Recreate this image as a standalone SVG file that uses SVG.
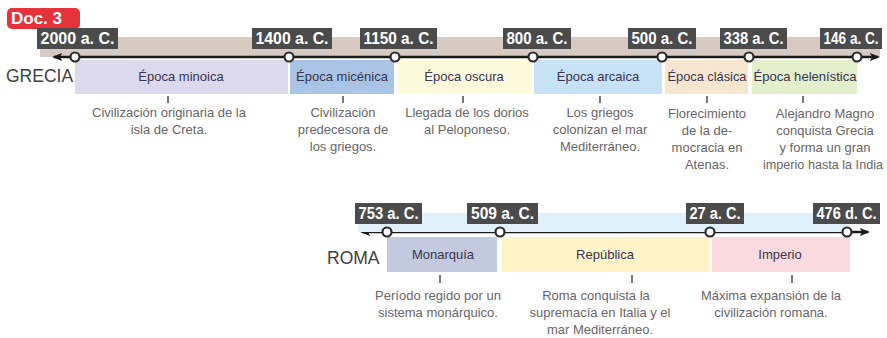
<svg xmlns="http://www.w3.org/2000/svg" width="887" height="338" viewBox="0 0 887 338">
<defs>
<style>
.lbl{fill:#4b4b4b}
.lt{font-family:"Liberation Sans",Arial,sans-serif;font-weight:bold;font-size:16px;fill:#fff;text-anchor:middle}
.pt{font-family:"Liberation Sans",Arial,sans-serif;font-size:13px;fill:#3a3550;text-anchor:middle}
.dt{font-family:"Liberation Sans",Arial,sans-serif;font-size:13px;fill:#6b6468;text-anchor:middle}
.big{font-family:"Liberation Sans",Arial,sans-serif;font-size:17.5px;fill:#3f3f3f}
.axis{stroke:#1a1a1a;stroke-width:2.5;fill:none}
.tick{stroke:#555;stroke-width:1.6}
.dot{fill:#fff;stroke:#2b2b2b;stroke-width:2.2}
</style>
<marker id="arr" viewBox="0 0 10 10" refX="8" refY="5" markerWidth="4.2" markerHeight="4.2" orient="auto-start-reverse" markerUnits="strokeWidth">
<path d="M0,1 L10,5 L0,9 L2.5,5 Z" fill="#1a1a1a"/>
</marker>
</defs>
<rect width="887" height="338" fill="#fff"/>

<g id="badge">
<rect x="7" y="8" width="73" height="21" rx="5" fill="#e7323b"/>
<text x="11" y="24" font-family="Liberation Sans,Arial,sans-serif" font-weight="bold" font-size="17" fill="#fff">Doc. 3</text>
</g>

<!-- GRECIA -->
<rect x="40" y="37" width="840" height="20" fill="#d6cac2"/>
<text class="big" x="6" y="82">GRECIA</text>

<g id="connectors">
<line class="axis" x1="54" y1="57" x2="878" y2="57" marker-start="url(#arr)" marker-end="url(#arr)"/>
<line class="axis" x1="362" y1="232" x2="868" y2="232" marker-start="url(#arr)" marker-end="url(#arr)"/>
<line class="tick" x1="168" y1="96" x2="168" y2="103"/>
<line class="tick" x1="343" y1="96" x2="343" y2="103"/>
<line class="tick" x1="463" y1="96" x2="463" y2="103"/>
<line class="tick" x1="600" y1="96" x2="600" y2="103"/>
<line class="tick" x1="707" y1="96" x2="707" y2="103"/>
<line class="tick" x1="803" y1="96" x2="803" y2="103"/>
<line class="tick" x1="440" y1="275" x2="440" y2="283"/>
<line class="tick" x1="632" y1="275" x2="632" y2="283"/>
<line class="tick" x1="792" y1="275" x2="792" y2="283"/>
</g>

<g id="p-minoica">
<rect x="75" y="60" width="213" height="34" fill="#dcd9ec"/>
<text class="pt" x="181" y="81">Época minoica</text>
<text class="dt" x="169" y="117">Civilización originaria de la</text>
<text class="dt" x="169" y="134">isla de Creta.</text>
</g>
<g id="p-micenica">
<rect x="290" y="60" width="104" height="34" fill="#a9c4e4"/>
<text class="pt" x="342" y="81">Época micénica</text>
<text class="dt" x="343" y="117">Civilización</text>
<text class="dt" x="343" y="134">predecesora de</text>
<text class="dt" x="343" y="151">los griegos.</text>
</g>
<g id="p-oscura">
<rect x="397" y="60" width="134" height="34" fill="#fdfadc"/>
<text class="pt" x="464" y="81">Época oscura</text>
<text class="dt" x="467" y="117">Llegada de los dorios</text>
<text class="dt" x="467" y="134">al Peloponeso.</text>
</g>
<g id="p-arcaica">
<rect x="534" y="60" width="128" height="34" fill="#c8e2f5"/>
<text class="pt" x="598" y="81">Época arcaica</text>
<text class="dt" x="600" y="117">Los griegos</text>
<text class="dt" x="600" y="134">colonizan el mar</text>
<text class="dt" x="600" y="151">Mediterráneo.</text>
</g>
<g id="p-clasica">
<rect x="665" y="60" width="83" height="34" fill="#f7e6cf"/>
<text class="pt" x="707" y="81" textLength="79" lengthAdjust="spacingAndGlyphs">Época clásica</text>
<text class="dt" x="707" y="118">Florecimiento</text>
<text class="dt" x="707" y="135">de la de-</text>
<text class="dt" x="707" y="152">mocracia en</text>
<text class="dt" x="707" y="169">Atenas.</text>
</g>
<g id="p-helenistica">
<rect x="752" y="60" width="105" height="34" fill="#e3efcb"/>
<text class="pt" x="805" y="81" textLength="103" lengthAdjust="spacingAndGlyphs">Época helenística</text>
<text class="dt" x="825" y="118">Alejandro Magno</text>
<text class="dt" x="825" y="135">conquista Grecia</text>
<text class="dt" x="825" y="152">y forma un gran</text>
<text class="dt" x="823" y="169" textLength="120" lengthAdjust="spacingAndGlyphs">imperio hasta la India</text>
</g>

<g id="d-2000">
<circle class="dot" cx="75" cy="57" r="4.5"/>
<rect class="lbl" x="37" y="28" width="81" height="21"/>
<text class="lt" x="77.5" y="44" textLength="74" lengthAdjust="spacingAndGlyphs">2000 a. C.</text>
</g>
<g id="d-1400">
<circle class="dot" cx="289" cy="57" r="4.5"/>
<rect class="lbl" x="252" y="28" width="80" height="21"/>
<text class="lt" x="292" y="44" textLength="73" lengthAdjust="spacingAndGlyphs">1400 a. C.</text>
</g>
<g id="d-1150">
<circle class="dot" cx="395" cy="57" r="4.5"/>
<rect class="lbl" x="360" y="28" width="77" height="21"/>
<text class="lt" x="398.5" y="44" textLength="70" lengthAdjust="spacingAndGlyphs">1150 a. C.</text>
</g>
<g id="d-800">
<circle class="dot" cx="533" cy="57" r="4.5"/>
<rect class="lbl" x="503" y="28" width="68" height="21"/>
<text class="lt" x="537" y="44" textLength="61" lengthAdjust="spacingAndGlyphs">800 a. C.</text>
</g>
<g id="d-500">
<circle class="dot" cx="662" cy="57" r="4.5"/>
<rect class="lbl" x="628" y="28" width="68" height="21"/>
<text class="lt" x="662" y="44" textLength="61" lengthAdjust="spacingAndGlyphs">500 a. C.</text>
</g>
<g id="d-338">
<circle class="dot" cx="749" cy="57" r="4.5"/>
<rect class="lbl" x="720" y="28" width="67" height="21"/>
<text class="lt" x="753.5" y="44" textLength="60" lengthAdjust="spacingAndGlyphs">338 a. C.</text>
</g>
<g id="d-146">
<circle class="dot" cx="857" cy="57" r="4.5"/>
<rect class="lbl" x="820" y="28" width="62" height="21"/>
<text class="lt" x="851" y="44" textLength="55" lengthAdjust="spacingAndGlyphs">146 a. C.</text>
</g>

<!-- ROMA -->
<rect x="358" y="213" width="492" height="19" fill="#dff0fa"/>
<text class="big" x="327" y="264">ROMA</text>

<g id="p-monarquia">
<rect x="387" y="237" width="110" height="35" fill="#c3c9de"/>
<text class="pt" x="443" y="259">Monarquía</text>
<text class="dt" x="438" y="300">Período regido por un</text>
<text class="dt" x="438" y="317">sistema monárquico.</text>
</g>
<g id="p-republica">
<rect x="502" y="237" width="207" height="35" fill="#fdf3c6"/>
<text class="pt" x="605" y="259">República</text>
<text class="dt" x="596" y="300">Roma conquista la</text>
<text class="dt" x="600" y="317">supremacía en Italia y el</text>
<text class="dt" x="600" y="334">mar Mediterráneo.</text>
</g>
<g id="p-imperio">
<rect x="712" y="237" width="138" height="35" fill="#fadade"/>
<text class="pt" x="780" y="259">Imperio</text>
<text class="dt" x="771" y="300">Máxima expansión de la</text>
<text class="dt" x="771" y="317">civilización romana.</text>
</g>

<g id="d-753">
<circle class="dot" cx="387" cy="232" r="4.5"/>
<rect class="lbl" x="355" y="203" width="67" height="21"/>
<text class="lt" x="388.5" y="219" textLength="60" lengthAdjust="spacingAndGlyphs">753 a. C.</text>
</g>
<g id="d-509">
<circle class="dot" cx="500" cy="232" r="4.5"/>
<rect class="lbl" x="467" y="203" width="71" height="21"/>
<text class="lt" x="502.5" y="219" textLength="63" lengthAdjust="spacingAndGlyphs">509 a. C.</text>
</g>
<g id="d-27">
<circle class="dot" cx="710" cy="232" r="4.5"/>
<rect class="lbl" x="686" y="203" width="58" height="21"/>
<text class="lt" x="715" y="219" textLength="51" lengthAdjust="spacingAndGlyphs">27 a. C.</text>
</g>
<g id="d-476">
<circle class="dot" cx="847" cy="232" r="4.5"/>
<rect class="lbl" x="813" y="203" width="67" height="21"/>
<text class="lt" x="846.5" y="219" textLength="60" lengthAdjust="spacingAndGlyphs">476 d. C.</text>
</g>
</svg>
